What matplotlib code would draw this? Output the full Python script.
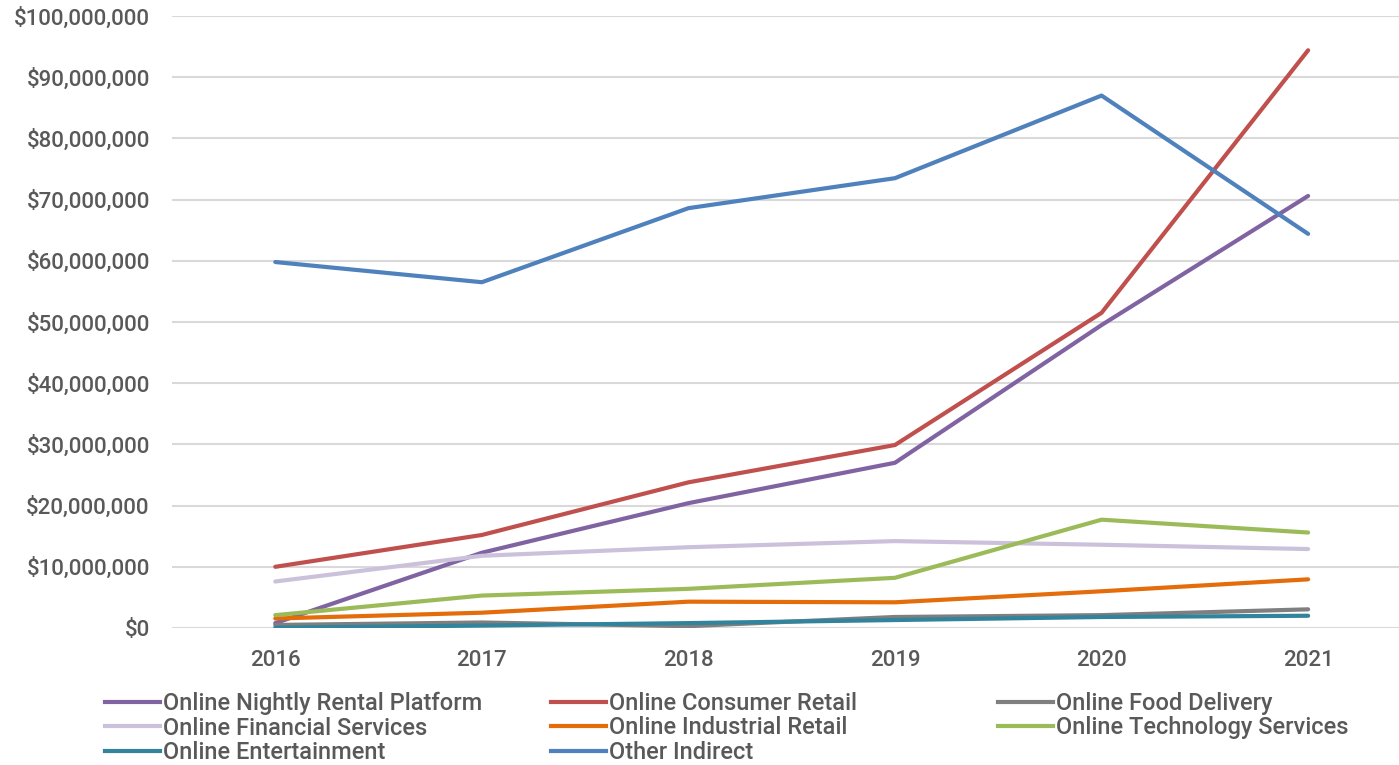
import matplotlib.pyplot as plt
from matplotlib.ticker import FuncFormatter
from matplotlib.lines import Line2D

plt.rcParams['font.family'] = ['Roboto', 'DejaVu Sans']

years = ["2016", "2017", "2018", "2019", "2020", "2021"]

# values in $ millions
nightly_rental = [0.8, 12.3, 20.4, 27.0, 49.5, 70.6]
consumer_retail = [10.0, 15.2, 23.8, 29.9, 51.5, 94.4]
food_delivery = [0.5, 0.9, 0.3, 1.8, 2.1, 3.05]
financial_services = [7.6, 11.8, 13.2, 14.2, 13.6, 12.9]
industrial_retail = [1.55, 2.5, 4.3, 4.2, 6.0, 7.95]
technology_services = [2.1, 5.3, 6.4, 8.2, 17.7, 15.6]
entertainment = [0.05, 0.4, 0.8, 1.3, 1.8, 2.0]
other_indirect = [59.8, 56.5, 68.6, 73.5, 87.0, 64.4]

series = [
    ("Online Nightly Rental Platform", nightly_rental, "#8064a2"),
    ("Online Consumer Retail", consumer_retail, "#c0504d"),
    ("Online Food Delivery", food_delivery, "#7f7f7f"),
    ("Online Financial Services", financial_services, "#ccc1da"),
    ("Online Industrial Retail", industrial_retail, "#e46c0a"),
    ("Online Technology Services", technology_services, "#9bbb59"),
    ("Online Entertainment", entertainment, "#31849b"),
    ("Other Indirect", other_indirect, "#4f81bd"),
]

text_color = "#595959"

fig = plt.figure(figsize=(13.99, 7.65), dpi=100)
ax = fig.add_axes([172 / 1399, 137 / 765, 1 - 172 / 1399, 612 / 765])

x = range(len(years))
for name, vals, color in series:
    ax.plot(x, [v * 1e6 for v in vals], color=color, lw=3, label=name,
            solid_capstyle="round", solid_joinstyle="round")

ax.set_ylim(0, 100e6)
ax.set_xlim(-0.5, 5.44)
ax.set_yticks([i * 10e6 for i in range(11)])
ax.yaxis.set_major_formatter(FuncFormatter(lambda v, p: f"${v:,.0f}"))
ax.set_xticks(list(x))
ax.set_xticklabels(years)
ax.grid(axis="y", color="#d9d9d9", lw=1.5)
ax.set_axisbelow(True)
for s in ax.spines.values():
    s.set_visible(False)
ax.tick_params(length=0, labelsize=16, colors=text_color)
ax.tick_params(axis="y", pad=16)
ax.tick_params(axis="x", pad=16)
for lbl in ax.get_xticklabels() + ax.get_yticklabels():
    lbl.set_fontweight("medium")

# legend laid out in three columns, like the original
handles = {name: Line2D([], [], color=color, lw=3) for name, vals, color in series}
columns = [
    (105, ["Online Nightly Rental Platform", "Online Financial Services", "Online Entertainment"]),
    (551, ["Online Consumer Retail", "Online Industrial Retail", "Other Indirect"]),
    (998, ["Online Food Delivery", "Online Technology Services"]),
]
for xpix, names in columns:
    leg = fig.legend([handles[n] for n in names], names,
                     loc="upper left", bbox_to_anchor=(xpix / 1399, 1 - 692 / 765),
                     frameon=False, fontsize=17, handlelength=2.35, handletextpad=0.12,
                     labelspacing=0.06, borderaxespad=0, borderpad=0)
    for t in leg.get_texts():
        t.set_color(text_color)
        t.set_fontweight("medium")

fig.savefig("out.png", dpi=100)
